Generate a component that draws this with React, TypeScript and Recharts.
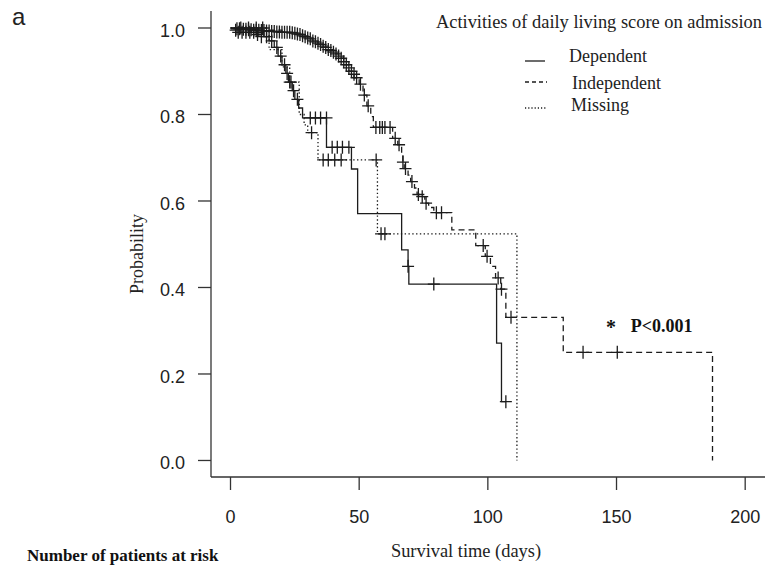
import React from "react";
import { ComposedChart, Line, Scatter, XAxis, YAxis } from "recharts";

// ---- Tick labels ----
const xTicks = [0, 50, 100, 150, 200];
const yTicks = [0, 0.2, 0.4, 0.6, 0.8, 1.0];

// ---- Dependent (solid) ----
const depTimes = [0, 8, 13, 15, 17, 18.5, 20, 21.5, 22.5, 24, 25, 26.5, 28, 37.3, 47, 49.4, 66.5, 69, 69.3, 103.4, 105.3, 107];
const depSurv = [1, 0.99, 0.98, 0.97, 0.955, 0.935, 0.915, 0.895, 0.875, 0.855, 0.835, 0.815, 0.792, 0.724, 0.674, 0.571, 0.487, 0.449, 0.408, 0.2715, 0.136, 0.136];
const depCensorTimes = [2, 3, 4.5, 6, 7.5, 9, 10.5, 12, 14, 16, 18, 19.5, 21, 22, 23, 24.5, 26, 31, 33, 35, 37.3, 39.5, 41.5, 43.5, 46, 69, 79, 107];
const depCensorSurv = [0.995, 0.99, 0.99, 0.99, 0.99, 0.99, 0.985, 0.98, 0.98, 0.97, 0.955, 0.935, 0.915, 0.895, 0.875, 0.855, 0.835, 0.792, 0.792, 0.792, 0.792, 0.724, 0.724, 0.724, 0.724, 0.449, 0.408, 0.136];

// ---- Independent (dashed) ----
const indTimes = [0, 10, 20, 26, 28, 30, 32, 34, 36, 38, 40, 42, 44, 46, 48, 50, 51.5, 53, 54.5, 55.5, 63, 65, 66.5, 67, 67.5, 69, 70, 71.5, 72.5, 74, 75.5, 77, 79, 86, 95.3, 99, 101, 103, 105, 107, 129.3, 187.3];
const indSurv = [1, 0.995, 0.99, 0.985, 0.98, 0.975, 0.968, 0.962, 0.955, 0.948, 0.94, 0.93, 0.915, 0.9, 0.885, 0.87, 0.845, 0.82, 0.795, 0.77, 0.745, 0.73, 0.705, 0.69, 0.675, 0.66, 0.645, 0.63, 0.615, 0.61, 0.595, 0.585, 0.573, 0.533, 0.497, 0.472, 0.449, 0.422, 0.396, 0.331, 0.25, 0];
const indCensorTimes = [2.5, 3.5, 5, 6, 7, 8, 9, 10, 11, 12, 13, 14, 15, 16, 17, 18, 19, 20, 21, 22, 23, 24, 25, 26, 27, 28, 29, 30, 31, 32, 33, 34, 35, 36, 37, 38, 39, 40, 41, 42, 43, 44, 45, 46, 47, 48, 49, 50.5, 52, 53.5, 56.5, 58, 59, 60, 62, 64, 65.5, 67, 68, 70.5, 73, 74.5, 76, 80, 82, 98.2, 99.7, 104, 105.3, 109, 137, 150.3];
const indCensorSurv = [0.998, 0.998, 0.997, 0.997, 0.996, 0.996, 0.995, 0.995, 0.995, 0.994, 0.994, 0.993, 0.993, 0.992, 0.992, 0.991, 0.991, 0.99, 0.99, 0.99, 0.99, 0.989, 0.988, 0.986, 0.985, 0.982, 0.98, 0.977, 0.975, 0.97, 0.968, 0.965, 0.962, 0.958, 0.955, 0.95, 0.948, 0.944, 0.94, 0.935, 0.93, 0.922, 0.915, 0.908, 0.9, 0.893, 0.885, 0.87, 0.845, 0.82, 0.77, 0.77, 0.77, 0.77, 0.77, 0.745, 0.73, 0.69, 0.675, 0.645, 0.615, 0.61, 0.595, 0.573, 0.573, 0.497, 0.472, 0.422, 0.396, 0.331, 0.25, 0.25];

// ---- Missing (dotted) ----
const misTimes = [0, 15, 20, 23, 26.7, 28.6, 30, 34, 57.1, 111.3];
const misSurv = [1, 0.95, 0.91, 0.875, 0.8, 0.776, 0.758, 0.695, 0.524, 0];
const misCensorTimes = [4, 7, 10, 12.5, 23.5, 31.5, 36, 38, 40.5, 43, 56.6, 58.5, 60];
const misCensorSurv = [1, 1, 1, 1, 0.875, 0.758, 0.695, 0.695, 0.695, 0.695, 0.695, 0.524, 0.524];

const toPts = (ts: number[], ss: number[]) => ts.map((t, i) => ({ t, s: ss[i] }));

const depData = toPts(depTimes, depSurv);
const indData = toPts(indTimes, indSurv);
const misData = toPts(misTimes, misSurv);
const depCens = toPts(depCensorTimes, depCensorSurv);
const indCens = toPts(indCensorTimes, indCensorSurv);
const misCens = toPts(misCensorTimes, misCensorSurv);

const INK = "#1c1c1c";
const AXIS = "#333";

const Plus = (props: any) => {
  const { cx, cy } = props;
  if (cx == null || cy == null) return null;
  return (
    <path
      d={`M${cx - 6},${cy}H${cx + 6}M${cx},${cy - 6.5}V${cy + 6.5}`}
      stroke={INK}
      strokeWidth={1.3}
      fill="none"
    />
  );
};

const YTick = (props: any) => {
  const { x, y, payload } = props;
  return (
    <text x={x} y={y} dy={9} textAnchor="end" fontSize={18} fontFamily="Liberation Sans, Arial, sans-serif" fill="#222">
      {Number(payload.value).toFixed(1)}
    </text>
  );
};

const XTick = (props: any) => {
  const { x, y, payload } = props;
  return (
    <text x={x} y={y} dy={13.3} textAnchor="middle" fontSize={18} fontFamily="Liberation Sans, Arial, sans-serif" fill="#222">
      {payload.value}
    </text>
  );
};

const SERIF = "Liberation Serif, Times New Roman, serif";

export default function App() {
  return (
    <div style={{ position: "absolute", left: 0, top: 0, width: 765, height: 566, background: "#fff" }}>
      <ComposedChart width={765} height={566} margin={{ top: 11, right: 0, bottom: 0, left: 0 }}>
        <XAxis
          type="number"
          dataKey="t"
          domain={[-7.58, 207.7]}
          ticks={xTicks}
          allowDataOverflow
          height={89}
          tickSize={13}
          tickMargin={20}
          tick={<XTick />}
          axisLine={{ stroke: AXIS, strokeWidth: 1.3 }}
          tickLine={{ stroke: AXIS, strokeWidth: 1.3 }}
        />
        <YAxis
          type="number"
          dataKey="s"
          domain={[-0.0382, 1.0393]}
          ticks={yTicks}
          allowDataOverflow
          width={211}
          tickSize={13}
          tickMargin={13}
          tick={<YTick />}
          axisLine={{ stroke: AXIS, strokeWidth: 1.3 }}
          tickLine={{ stroke: AXIS, strokeWidth: 1.3 }}
        />
        <Line data={depData} dataKey="s" type="stepAfter" stroke={INK} strokeWidth={1.3} dot={false} activeDot={false} isAnimationActive={false} />
        <Line data={indData} dataKey="s" type="stepAfter" stroke={INK} strokeWidth={1.3} strokeDasharray="6 4" dot={false} activeDot={false} isAnimationActive={false} />
        <Line data={misData} dataKey="s" type="stepAfter" stroke={INK} strokeWidth={1.3} strokeDasharray="1.4 2.4" dot={false} activeDot={false} isAnimationActive={false} />
        <Scatter data={depCens} dataKey="s" shape={<Plus />} isAnimationActive={false} />
        <Scatter data={indCens} dataKey="s" shape={<Plus />} isAnimationActive={false} />
        <Scatter data={misCens} dataKey="s" shape={<Plus />} isAnimationActive={false} />
      </ComposedChart>
      <svg width={765} height={566} style={{ position: "absolute", left: 0, top: 0, pointerEvents: "none" }}>
        <text x={12} y={25} fontSize={24} fontFamily="Liberation Sans, Arial, sans-serif" fill="#222">a</text>
        <text x={142.5} y={254} transform="rotate(-90 142.5 254)" textAnchor="middle" fontSize={18} fontFamily={SERIF} fill="#222">Probability</text>
        <text x={466} y={557} textAnchor="middle" fontSize={18.4} fontFamily={SERIF} fill="#222">Survival time (days)</text>
        <text x={27} y={561} fontSize={17} fontWeight="bold" fontFamily={SERIF} fill="#111">Number of patients at risk</text>
        <text x={436} y={28} fontSize={18.4} fontFamily={SERIF} fill="#222">Activities of daily living score on admission</text>
        <line x1={525} x2={545} y1={61} y2={61} stroke={INK} strokeWidth={1.3} />
        <text x={569} y={62} fontSize={18} fontFamily={SERIF} fill="#222">Dependent</text>
        <line x1={525} x2={547} y1={82} y2={82} stroke={INK} strokeWidth={1.3} strokeDasharray="4 3" />
        <text x={572} y={88.5} fontSize={18} fontFamily={SERIF} fill="#222">Independent</text>
        <line x1={525} x2={547} y1={108} y2={108} stroke={INK} strokeWidth={1.3} strokeDasharray="1.2 2" />
        <text x={571} y={111} fontSize={18} fontFamily={SERIF} fill="#222">Missing</text>
        <text x={606} y={334} fontSize={20} fontWeight="bold" fontFamily={SERIF} fill="#111">*</text>
        <text x={630.7} y={332.3} fontSize={18} fontWeight="bold" fontFamily={SERIF} fill="#111">P&lt;0.001</text>
      </svg>
    </div>
  );
}
